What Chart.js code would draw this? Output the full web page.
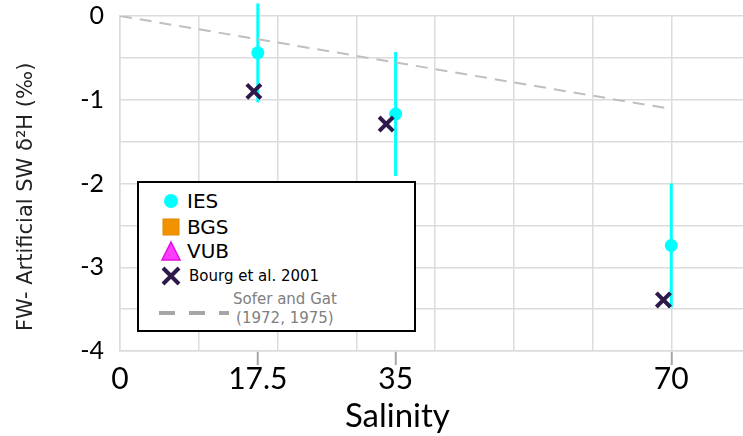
<!DOCTYPE html>
<html>
<head>
<meta charset="utf-8">
<script src="https://cdn.jsdelivr.net/npm/chart.js@4.4.1/dist/chart.umd.min.js"></script>
<style>
  html, body { margin: 0; padding: 0; background: #fff; overflow: hidden; }
  #wrap { position: relative; width: 764px; height: 436px; }
  #legend {
    position: absolute; left: 137px; top: 181px; width: 279px; height: 151px;
    box-sizing: border-box; border: 2px solid #000; background: #fff;
    font-family: "DejaVu Sans", sans-serif; color: #000;
  }
  .lg-row { position: absolute; left: 0; display: flex; align-items: center; }
  .lg-row svg { display: block; }
  .lg-big { font-size: 20px; }
  .lg-small { font-size: 15px; }
  .lg-gray { color: #808080; font-size: 15px; line-height: 19px; text-align: center; }
</style>
</head>
<body>
<div id="wrap">
  <canvas id="chart" width="764" height="436"></canvas>
  <div id="legend">
    <div class="lg-row" style="top:6px;left:22px;">
      <svg width="20" height="20"><circle cx="10" cy="10" r="7" fill="#00FFFF"/></svg>
      <span class="lg-big" style="margin-left:6px;">IES</span>
    </div>
    <div class="lg-row" style="top:32px;left:22px;">
      <svg width="20" height="20"><rect x="2" y="2" width="16" height="16" fill="#F39200" stroke="#E08800" stroke-width="1"/></svg>
      <span class="lg-big" style="margin-left:6px;">BGS</span>
    </div>
    <div class="lg-row" style="top:56px;left:22px;">
      <svg width="20" height="22"><polygon points="10,2 19,20 1,20" fill="#FF3CFF" stroke="#E010E0" stroke-width="1.5"/></svg>
      <span class="lg-big" style="margin-left:6px;">VUB</span>
    </div>
    <div class="lg-row" style="top:83px;left:22px;">
      <svg width="20" height="20"><path d="M2,2 L18,18 M18,2 L2,18" stroke="#2D1A4A" stroke-width="4"/></svg>
      <span class="lg-small" style="margin-left:8px;">Bourg et al. 2001</span>
    </div>
    <div class="lg-row" style="top:106px;left:18px;">
      <svg width="74" height="40"><line x1="2" y1="24" x2="72" y2="24" stroke="#A6A6A6" stroke-width="4" stroke-dasharray="16,14"/></svg>
      <div class="lg-gray" style="margin-left:2px;">Sofer and Gat<br>(1972, 1975)</div>
    </div>
  </div>
</div>
<script>
// IES measurements (salinity, FW - artificial SW d2H, error)
const iesSalinity = [17.5, 35, 70];
const iesD2H = [-0.44, -1.17, -2.74];
const iesErr = [0.59, 0.74, 0.74];

// Bourg et al. 2001
const bourgSalinity = [17, 33.8, 69];
const bourgD2H = [-0.90, -1.29, -3.39];

// Sofer and Gat (1972, 1975)
const soferSalinity = [0, 70];
const soferD2H = [0, -1.11];

// BGS / VUB have no points on this panel
const bgsPoints = [];
const vubPoints = [];

const xTicks = [0, 10, 17.5, 20, 30, 35, 40, 50, 60, 70, 80];
const xLabelTicks = [0, 17.5, 35, 70];
const xMarkTicks = [17.5, 35, 70];
const xNoGrid = [17.5, 35];

const toXY = (xs, ys) => xs.map((x, i) => ({ x, y: ys[i] }));

const GRID = '#DCDCDC';
const NB = '\u00A0';

const errorBars = {
  id: 'errorBars',
  beforeDatasetsDraw(chart) {
    const { ctx, scales: { x, y } } = chart;
    ctx.save();
    ctx.strokeStyle = '#00FFFF';
    ctx.lineWidth = 3;
    iesSalinity.forEach((s, i) => {
      const px = x.getPixelForValue(s);
      ctx.beginPath();
      ctx.moveTo(px, y.getPixelForValue(iesD2H[i] + iesErr[i]));
      ctx.lineTo(px, y.getPixelForValue(iesD2H[i] - iesErr[i]));
      ctx.stroke();
    });
    ctx.restore();
  }
};

new Chart(document.getElementById('chart'), {
  type: 'scatter',
  data: {
    datasets: [
      { label: 'Sofer and Gat', type: 'line', data: toXY(soferSalinity, soferD2H),
        borderColor: '#BFBFBF', borderWidth: 2, borderDash: [12, 8], pointRadius: 0, fill: false },
      { label: 'BGS', data: bgsPoints, pointStyle: 'rect', backgroundColor: '#F39200' },
      { label: 'VUB', data: vubPoints, pointStyle: 'triangle', backgroundColor: '#FF3CFF' },
      { label: 'Bourg et al. 2001', data: toXY(bourgSalinity, bourgD2H),
        pointStyle: 'crossRot', pointRadius: 10, borderColor: '#2D1A4A', borderWidth: 4 },
      { label: 'IES', data: toXY(iesSalinity, iesD2H),
        pointStyle: 'circle', pointRadius: 6.5, backgroundColor: '#00FFFF', borderColor: '#00FFFF', borderWidth: 0 },
    ],
  },
  options: {
    responsive: false,
    animation: false,
    layout: { padding: { top: 16, right: 1, left: 0, bottom: 0 } },
    plugins: { legend: { display: false }, tooltip: { enabled: false } },
    scales: {
      x: {
        type: 'linear', min: 0, max: 80,
        afterBuildTicks: s => { s.ticks = xTicks.map(v => ({ value: v })); },
        afterFit: s => { s.height = 85; },
        grid: {
          color: c => xNoGrid.includes(c.tick.value) ? 'rgba(0,0,0,0)' : GRID,
          lineWidth: 1.5,
          tickColor: c => xMarkTicks.includes(c.tick.value) ? '#A6A6A6' : 'rgba(0,0,0,0)',
          tickLength: 14, tickWidth: 2,
        },
        border: { color: GRID, width: 1.5 },
        ticks: {
          autoSkip: false, maxRotation: 0, padding: -4, color: '#000',
          font: { family: 'Lato', size: 30 },
          callback: v => xLabelTicks.includes(v) ? String(v) : '',
        },
        title: { display: true, text: 'Salinity' + NB.repeat(9), color: '#000',
          font: { family: 'Lato', size: 33 }, padding: { top: 0, bottom: 0 } },
      },
      y: {
        type: 'linear', min: -4, max: 0,
        afterFit: s => { s.width = 120; s.paddingTop = 0; s.paddingBottom = 0; },
        grid: { color: GRID, lineWidth: 1.5, drawTicks: false },
        border: { color: GRID, width: 1.5 },
        ticks: {
          stepSize: 0.5, padding: 16, color: '#000',
          font: { family: 'Lato', size: 25 },
          callback: v => Number.isInteger(v) ? String(v) : '',
        },
        title: { display: true, text: 'FW- Artificial SW δ²H (‰)' + NB.repeat(4), color: '#222',
          font: { family: 'DejaVu Sans', size: 21 }, padding: { top: 14, bottom: 0 } },
      },
    },
  },
  plugins: [errorBars],
});
</script>
</body>
</html>
